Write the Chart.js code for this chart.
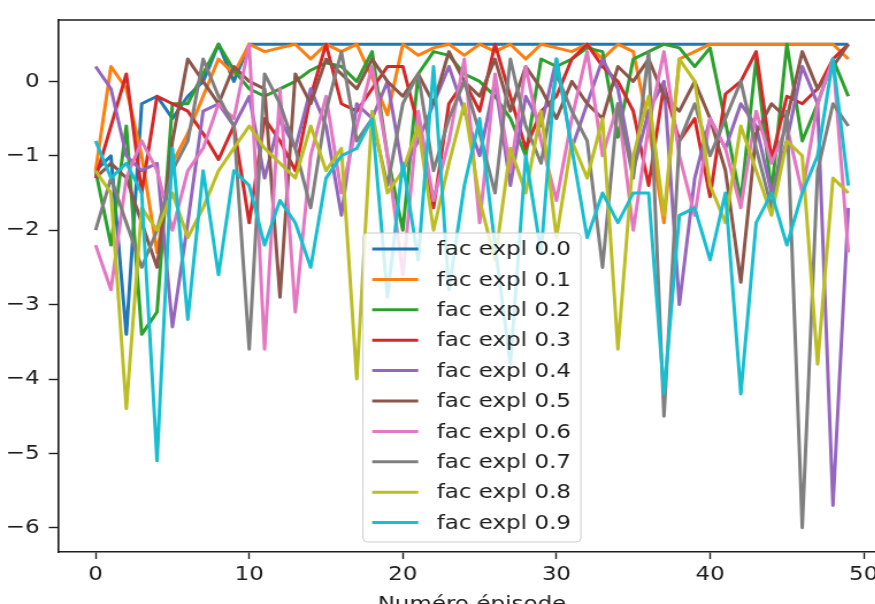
<!DOCTYPE html>
<html>
<head>
<meta charset="utf-8">
<script src="https://cdn.jsdelivr.net/npm/chart.js@4/dist/chart.umd.min.js"></script>
<style>
    html, body { margin: 0; padding: 0; background: #fff; overflow: hidden; }
    .stretch { width: 790px; height: 640px; transform: scaleX(1.15); transform-origin: 0 0; }
</style>
</head>
<body>
<div class="stretch"><canvas id="chart" width="790" height="640"></canvas></div>
<script>
const episodes = Array.from({ length: 50 }, (_, i) => i)
const xTicks = [0, 10, 20, 30, 40, 50]
const yTicks = [-6, -5, -4, -3, -2, -1, 0]

const labels = ["fac expl 0.0", "fac expl 0.1", "fac expl 0.2", "fac expl 0.3", "fac expl 0.4",
    "fac expl 0.5", "fac expl 0.6", "fac expl 0.7", "fac expl 0.8", "fac expl 0.9"]
const colors = ["#1f77b4", "#ff7f0e", "#2ca02c", "#d62728", "#9467bd",
    "#8c564b", "#e377c2", "#7f7f7f", "#bcbd22", "#17becf"]

const expl00 = [-1.2, -1.0, -3.4, -0.3, -0.2, -0.5, -0.2, 0.0, 0.5, 0.0,
    0.5, 0.5, 0.5, 0.5, 0.5, 0.5, 0.5, 0.5, 0.5, 0.5,
    0.5, 0.5, 0.5, 0.5, 0.5, 0.5, 0.5, 0.5, 0.5, 0.5,
    0.5, 0.5, 0.5, 0.5, 0.5, 0.5, 0.5, 0.5, 0.5, 0.5,
    0.5, 0.5, 0.5, 0.5, 0.5, 0.5, 0.5, 0.5, 0.5, 0.5]
const expl01 = [-1.2, 0.2, -0.1, -1.0, -2.3, -1.1, -0.7, -0.2, 0.3, 0.1,
    0.5, 0.4, 0.45, 0.5, 0.3, 0.5, 0.4, 0.5, 0.05, -0.45,
    0.5, 0.35, 0.45, 0.5, 0.35, 0.5, 0.4, 0.5, 0.3, 0.5,
    0.45, 0.4, 0.5, 0.3, 0.5, 0.4, -0.6, -1.9, 0.3, 0.4,
    0.5, 0.5, 0.5, 0.5, 0.5, 0.5, 0.5, 0.5, 0.5, 0.3]
const expl02 = [-1.2, -2.2, -0.6, -3.4, -3.1, -0.3, -0.3, 0.1, 0.5, 0.15,
    -0.1, -0.2, -0.1, 0.0, 0.15, 0.25, 0.2, 0.0, 0.4, -1.0,
    -2.0, 0.1, 0.4, 0.35, 0.1, 0.0, -0.2, -0.5, -1.0, 0.3,
    0.2, 0.3, 0.45, 0.4, -0.75, 0.3, 0.4, 0.5, 0.45, 0.2,
    0.45, -0.55, -1.6, 0.3, -1.5, 0.5, -0.8, -0.3, 0.3, -0.2]
const expl03 = [-1.3, -0.6, 0.1, -1.5, -0.2, -0.3, -0.4, -0.7, -1.05, -0.6,
    -1.9, -0.5, -0.8, -1.2, -0.2, 0.5, -0.3, -0.4, -0.1, 0.2,
    0.2, -0.6, -1.7, -0.3, 0.0, -0.4, 0.5, -0.2, -0.9, -0.4,
    -0.2, 0.3, 0.5, 0.2, 0.0, -0.4, -1.4, -0.05, -0.8, -0.5,
    -1.55, -0.17, 0.0, 0.4, -1.05, -0.2, -0.3, -0.1, 0.3, 0.5]
const expl04 = [0.2, -0.1, -1.0, -1.2, -1.1, -3.3, -1.9, -0.4, -0.3, -0.6,
    -0.2, -1.3, -0.5, -0.9, -0.1, -0.6, -1.8, -0.3, -0.5, 0.0,
    -1.2, -0.8, -0.3, 0.2, -0.4, -1.0, 0.0, -1.4, -0.2, -0.6,
    0.3, -0.9, -0.3, 0.3, -0.1, -1.2, -0.4, 0.0, -3.0, -1.3,
    -0.5, -0.9, -0.3, -0.6, -1.5, -0.8, 0.2, -0.3, -5.7, -1.7]
const expl05 = [-1.3, -1.1, -1.3, -1.9, -2.5, -0.8, 0.3, 0.0, -0.3, 0.2,
    0.0, -0.1, -2.9, 0.1, -0.3, 0.3, 0.1, -0.1, 0.3, 0.0,
    -0.2, 0.1, -0.3, 0.4, 0.0, -0.2, 0.3, -0.4, 0.2, -0.1,
    -0.5, 0.0, -0.3, -0.5, 0.2, 0.0, 0.3, -0.2, -0.4, 0.0,
    -0.5, -1.2, -2.7, -0.7, -0.3, -0.5, 0.4, -0.1, 0.2, 0.5]
const expl06 = [-2.2, -2.8, -1.3, -0.8, -1.2, -2.0, -1.2, -0.9, -0.3, -0.5,
    0.5, -3.6, -0.1, -3.1, -1.0, -0.2, -1.5, -0.6, 0.2, -1.0,
    -2.6, -0.4, -1.6, -0.8, 0.3, -1.9, 0.1, -1.2, 0.2, -0.8,
    -1.6, -0.5, 0.4, -1.0, -0.3, -2.0, -0.6, 0.4, -1.0, -1.8,
    -0.5, -0.9, -1.7, -0.4, -1.1, -0.6, -1.5, -0.3, 0.3, -2.3]
const expl07 = [-2.0, -1.3, -1.9, -2.5, -2.0, -1.2, -0.8, 0.3, -0.2, -0.6,
    -3.6, 0.1, -0.3, -0.9, -1.7, -0.4, 0.4, -0.8, -0.5, -1.4,
    -0.3, 0.1, -1.2, -0.5, 0.0, -0.7, -1.5, 0.3, -0.6, -1.1,
    0.1, -0.4, -0.8, -2.5, -0.3, -1.3, 0.4, -4.5, -0.8, -0.3,
    -1.0, -0.5, 0.0, -0.9, -1.7, -0.4, -6.0, -1.2, -0.3, -0.6]
const expl08 = [-1.2, -1.5, -4.4, -1.7, -2.0, -1.5, -2.1, -1.7, -1.2, -0.9,
    -0.6, -0.9, -1.1, -1.3, -0.6, -1.2, -0.9, -4.0, -0.4, -1.5,
    -1.2, -0.6, -2.0, -1.1, -0.3, -1.6, -2.4, -0.9, -1.5, -0.4,
    -2.1, -0.8, -1.3, -0.5, -3.6, -1.0, -0.2, -1.8, 0.3, 0.0,
    -1.4, -1.9, -0.6, -1.2, -1.8, -0.8, -1.0, -3.8, -1.3, -1.5]
const expl09 = [-0.8, -1.3, -1.1, -1.5, -5.1, -0.9, -3.2, -1.2, -2.6, -1.2,
    -1.4, -2.2, -1.6, -1.9, -2.5, -1.3, -1.0, -0.9, -0.5, -2.9,
    -1.1, -2.4, 0.2, -2.8, -1.4, -0.5, -2.2, -3.8, -1.0, -2.3,
    0.3, -0.9, -2.1, -1.5, -1.9, -1.5, -1.5, -4.2, -1.8, -1.7,
    -2.4, -1.5, -4.2, -1.9, -1.5, -2.2, -1.5, -1.0, 0.3, -1.4]

const series = [expl00, expl01, expl02, expl03, expl04, expl05, expl06, expl07, expl08, expl09]

const TEXT = "#1e1e1e"
const FONT = "'DejaVu Sans', sans-serif"
const LINE_W = 3

const minusLabel = v => (v < 0 ? "\u2212" + Math.abs(v) : String(v))

// box round the plot (top/right spines) and the matplotlib-like legend
const framePlugin = {
    id: "frame",
    afterDraw(chart) {
        const { ctx, chartArea: a } = chart
        ctx.save()
        ctx.strokeStyle = TEXT
        ctx.lineWidth = 1.6
        ctx.beginPath()
        ctx.moveTo(a.left, a.top)
        ctx.lineTo(a.right, a.top)
        ctx.lineTo(a.right, a.bottom)
        ctx.stroke()

        const fontSize = 20
        const pitch = 30.4
        const w = 189.5
        const h = 309
        const left = (a.left + a.right) / 2 - w / 2
        const top = a.bottom - 10 - h
        ctx.fillStyle = "rgba(255,255,255,0.8)"
        ctx.strokeStyle = "#cccccc"
        ctx.lineWidth = 1
        ctx.beginPath()
        ctx.roundRect(left, top, w, h, 4)
        ctx.fill()
        ctx.stroke()

        ctx.font = `${fontSize}px ${FONT}`
        ctx.textBaseline = "middle"
        ctx.textAlign = "left"
        labels.forEach((label, i) => {
            const y = top + 16 + i * pitch
            ctx.strokeStyle = colors[i]
            ctx.lineWidth = LINE_W
            ctx.beginPath()
            ctx.moveTo(left + 8, y)
            ctx.lineTo(left + 48, y)
            ctx.stroke()
            ctx.fillStyle = TEXT
            ctx.fillText(label, left + 64, y + 1)
        })
        ctx.restore()
    },
}

const ctx = document.getElementById("chart").getContext("2d")

new Chart(ctx, {
    type: "line",
    data: {
        datasets: series.map((values, i) => ({
            label: labels[i],
            data: values.map((v, j) => ({ x: episodes[j], y: v })),
            borderColor: colors[i],
            backgroundColor: colors[i],
            borderWidth: LINE_W,
            borderJoinStyle: "round",
            pointRadius: 0,
            tension: 0,
            fill: false,
            order: series.length - 1 - i,
        })),
    },
    options: {
        responsive: false,
        animation: false,
        devicePixelRatio: 1,
        layout: { padding: { top: 16, right: 19.6, left: 0, bottom: 0 } },
        plugins: {
            legend: { display: false },
            tooltip: { enabled: false },
        },
        scales: {
            x: {
                type: "linear",
                min: -2.45,
                max: 51.45,
                afterFit: scale => { scale.height = 88 },
                afterBuildTicks: scale => { scale.ticks = xTicks.map(value => ({ value })) },
                grid: { drawOnChartArea: false, tickLength: 7, tickColor: TEXT, tickWidth: 1.4 },
                border: { display: true, color: TEXT, width: 1.6 },
                ticks: {
                    color: TEXT,
                    padding: 4,
                    maxRotation: 0,
                    font: { family: FONT, size: 20 },
                },
                title: {
                    display: true,
                    text: "Numéro épisode",
                    color: TEXT,
                    font: { family: FONT, size: 20 },
                    padding: { top: 0, bottom: 23 },
                },
            },
            y: {
                min: -6.325,
                max: 0.825,
                afterFit: scale => { scale.width = 50.4 },
                afterBuildTicks: scale => { scale.ticks = yTicks.map(value => ({ value })) },
                grid: { drawOnChartArea: false, tickLength: 8, tickColor: TEXT, tickWidth: 1.4 },
                border: { display: true, color: TEXT, width: 1.6 },
                ticks: {
                    color: TEXT,
                    padding: 8,
                    font: { family: FONT, size: 20 },
                    callback: minusLabel,
                },
            },
        },
    },
    plugins: [framePlugin],
})
</script>
</body>
</html>
